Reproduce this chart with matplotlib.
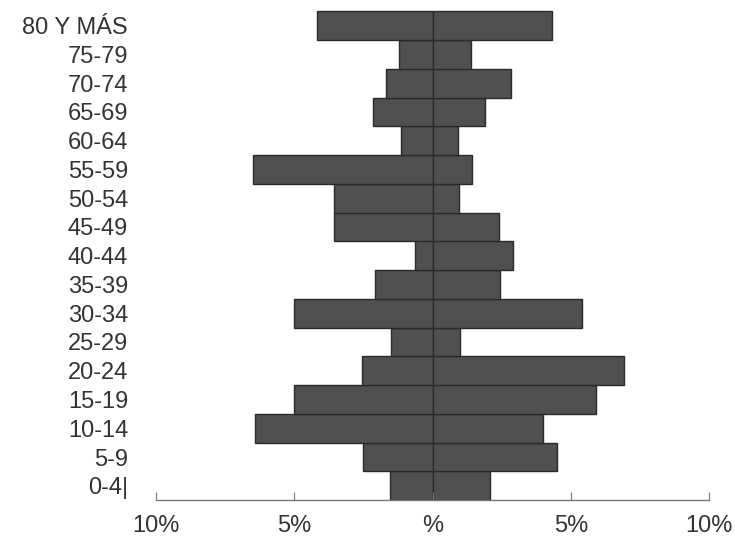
import matplotlib
matplotlib.use("Agg")
import matplotlib.pyplot as plt
import numpy as np

# age groups, bottom to top
grupos = ["0-4|", "5-9", "10-14", "15-19", "20-24", "25-29", "30-34", "35-39",
          "40-44", "45-49", "50-54", "55-59", "60-64", "65-69", "70-74",
          "75-79", "80 Y MÁS"]
# percentages (left side / right side)
izquierda = [1.52, 2.52, 6.43, 5.00, 2.54, 1.50, 5.00, 2.07,
             0.62, 3.55, 3.55, 6.48, 1.13, 2.14, 1.70, 1.21, 4.17]
derecha = [2.06, 4.51, 3.99, 5.92, 6.91, 0.99, 5.40, 2.44,
           2.91, 2.40, 0.96, 1.41, 0.91, 1.89, 2.83, 1.38, 4.31]
ticks = [-10, -5, 0, 5, 10]
tick_labels = ["10%", "5%", "%", "5%", "10%"]

fig = plt.figure(figsize=(7.35, 5.46), dpi=100)
ax = fig.add_axes([0.212, 0.084, 0.753, 0.898])

y = np.arange(len(grupos))
bar_kw = dict(height=1.0, color="#505050", edgecolor="#2a2a2a", linewidth=1.0)
ax.barh(y, [-v for v in izquierda], **bar_kw)
ax.barh(y, derecha, **bar_kw)

ax.set_xlim(-10, 10)
ax.set_ylim(-0.5, len(grupos) - 0.5 + 0.05)

for s in ["top", "right", "left"]:
    ax.spines[s].set_visible(False)
ax.spines["bottom"].set_color("#777777")
ax.spines["bottom"].set_linewidth(1.0)

ax.set_xticks(ticks)
ax.set_xticklabels(tick_labels)
ax.set_yticks(y)
ax.set_yticklabels(grupos)
ax.tick_params(axis="y", length=0, pad=20)
ax.tick_params(axis="x", direction="in", length=6, color="#777777", pad=11)

for lab in ax.get_xticklabels() + ax.get_yticklabels():
    lab.set_family(["Liberation Sans", "DejaVu Sans"])
    lab.set_fontsize(17)
    lab.set_color("#333333")

fig.savefig("out.png", dpi=100)
